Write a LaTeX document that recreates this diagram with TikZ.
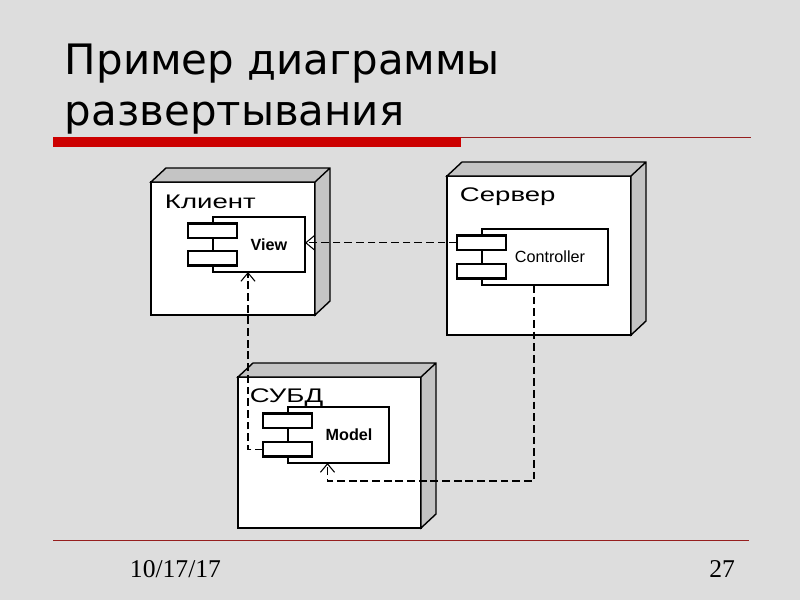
\documentclass[tikz,border=0pt]{standalone}
\usepackage{fontspec}
\setmainfont{DejaVu Sans}
\newfontfamily\nodefont[FakeStretch=1.4]{Liberation Sans}
\newfontfamily\compfont{Liberation Sans}
\newfontfamily\footfont{Liberation Serif}
\usetikzlibrary{arrows.meta,fit}

\definecolor{slidebg}{RGB}{221,221,221}
\definecolor{barred}{RGB}{204,0,0}
\definecolor{linered}{RGB}{150,30,30}
\definecolor{sidegray}{RGB}{196,196,196}

\begin{document}
\begin{tikzpicture}[x=0.025cm, y=-0.025cm, >={Straight Barb[length=6pt,width=10pt]}]
	\tikzset{nodebox/.style={draw=black, line width=1pt, fill=white, inner sep=0pt, outer sep=0pt},
		comp/.style={draw=black, line width=1.6pt, fill=white, inner sep=0pt, outer sep=0pt},
		tab/.style={comp, minimum width=1.225cm, minimum height=0.3625cm, anchor=north west},
		dep/.style={->, line width=0.75pt, dash pattern=on 5.5pt off 2.8pt},
		title/.style={anchor=base west, font=\fontsize{29.8}{36}\selectfont},
		nodelbl/.style={anchor=base west, font=\nodefont\fontsize{14}{16}\selectfont},
		complbl/.style={anchor=base, font=\compfont\fontsize{11.5}{13}\selectfont},
		footer/.style={font=\footfont\fontsize{18.2}{22}\selectfont}}
	% Slide
	\fill[slidebg] (0,0) rectangle (800,600);
	\useasboundingbox (0,0) rectangle (800,600);
	\node[title] (t1) at (60,74) {Пример диаграммы};
	\node[title] (t2) at (60,125) {развертывания};
	\fill[barred] (53,137) rectangle (461,147);
	\draw[linered, line width=0.7pt] (461,137) -- (751,137);
	\draw[linered, line width=0.7pt] (53,540) -- (749,540);
	\node[footer, anchor=base west] (date) at (125,577) {10/17/17};
	\node[footer, anchor=base east] (page) at (740,577) {27};
	
	% Nodes
	\node[nodebox, fit={(151,182) (315,315)}] (klient) {};
	\node[nodebox, fit={(447,176) (631,335)}] (server) {};
	\node[nodebox, fit={(238,377) (421,528)}] (subd) {};
	\foreach \n in {klient,server,subd}
		\draw[nodebox, fill=sidegray] (\n.north west) -- ++(15,-14) -- ([shift={(15,-14)}]\n.north east)
			-- ([shift={(15,-14)}]\n.south east) -- (\n.south east) -- (\n.north east) -- cycle
			(\n.north east) -- ++(15,-14);
	\node[nodelbl] (klientlbl) at (160,208) {Клиент};
	\node[nodelbl] (serverlbl) at (455,201) {Сервер};
	\node[nodelbl] (subdlbl) at (245,402) {СУБД};
	
	% Components
	\node[comp, fit={(213,217) (305,272)}] (view) {};
	\node[comp, fit={(482,229) (608,285)}] (ctrl) {};
	\node[comp, fit={(288,407) (389,463)}] (model) {};
	\foreach \comp in {view,ctrl,model} {
		\node[tab] (\comp1) at ([shift={(-25,6.5)}]\comp.north west) {};
		\node[tab] (\comp2) at ([shift={(-25,-21)}]\comp.south west) {};
	}
	\node[complbl] (viewlbl) at (269,250) {\bfseries View};
	\node[complbl] (ctrllbl) at (550,262) {Controller};
	\node[complbl] (modellbl) at (349,440) {\bfseries Model};
	
	% Dependencies
	\draw[dep] (ctrl1.west) -- (ctrl1.west -| view.east);
	\draw[dep] ([xshift=-0.275cm]ctrl.south) -- ++(0,196) -| ([xshift=-0.275cm]model.south);
	\draw[dep] (model2.west) -| ([xshift=-0.275cm]view.south);
\end{tikzpicture}
\end{document}
